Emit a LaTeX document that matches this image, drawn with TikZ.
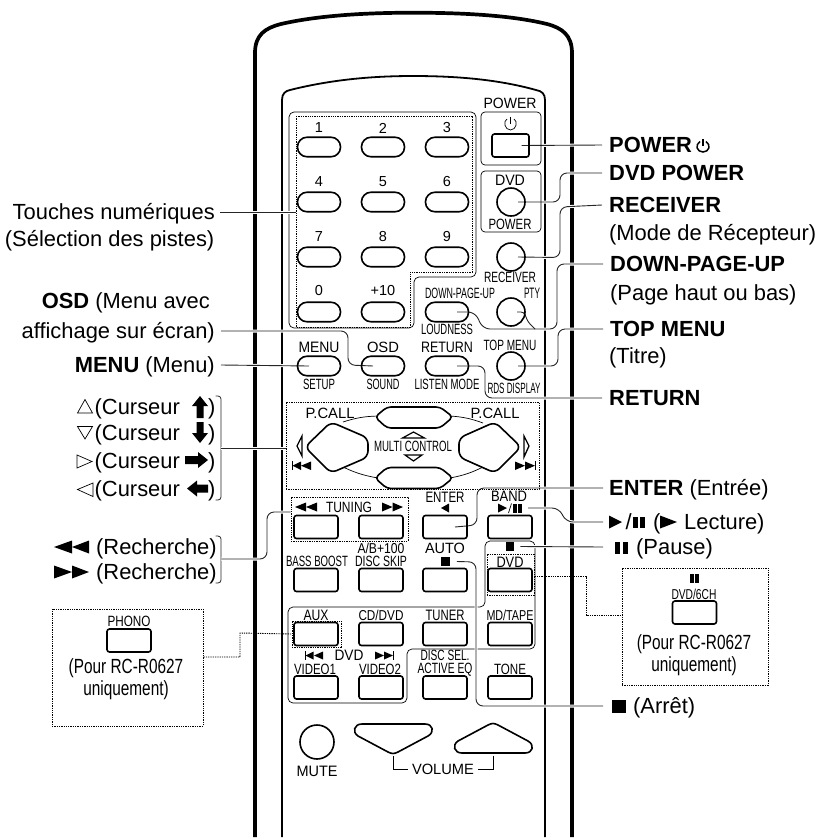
\documentclass[tikz,border=0pt]{standalone}
\usepackage{fontspec}
\usepackage{graphicx}
\setmainfont{Liberation Sans}
\pgfdeclarelayer{bg}
\pgfdeclarelayer{conn}
\pgfsetlayers{bg,conn,main}
\newcommand{\fitw}[2]{\resizebox{#1pt}{10.4pt}{#2}}
\tikzset{
  biglab/.style={inner sep=0pt,font=\fontsize{21.9}{21.9}\selectfont,text height=15.7pt,text depth=0pt},
  lw/.style={biglab,anchor=west},
  le/.style={biglab,anchor=east},
  sm/.style={inner sep=0pt,font=\fontsize{14.5}{14.5}\selectfont,anchor=center},
  insettxt/.style={inner sep=0pt,font=\fontsize{20.5}{20.5}\selectfont,anchor=center},
  pill/.style={draw=black,line width=1.6pt,rounded corners=9.5pt,minimum width=43pt,minimum height=19.5pt,inner sep=0pt},
  sqbtn/.style={draw=black,line width=1.6pt,rounded corners=2.5pt,minimum width=44pt,minimum height=23pt,inner sep=0pt},
  rnd/.style={draw=black,line width=1.6pt,circle,minimum size=28pt,inner sep=0pt},
  thinbox/.style={draw=black,line width=0.7pt,rounded corners=4pt,inner sep=0pt},
  dotbox/.style={draw=black,line width=0.9pt,dash pattern=on 1.3pt off 1pt,inner sep=0pt},
  dotline/.style={draw=black,line width=0.9pt,dash pattern=on 1.3pt off 1pt},
  thinline/.style={draw=black,line width=0.7pt,rounded corners=5pt},
  conn/.style={draw=black!85,line width=0.9pt,rounded corners=7pt,preaction={draw=white,line width=3pt}},
  brk/.style={draw=black!85,line width=0.8pt,rounded corners=3pt},
  blk/.style={fill=black,inner sep=0pt,minimum size=8.5pt},
  hollow/.style={draw=black,line width=1pt,fill=white,line join=miter},
}
\begin{document}
\begin{tikzpicture}[x=1pt,y=-1pt]
\useasboundingbox (0,0) rectangle (815,839);
\begin{pgfonlayer}{bg}
\fill[white] (0,0) rectangle (815,839);
% body
\draw[line width=3.7pt] (255,837) -- (255,53) .. controls (255,35) and (265,28) .. (281,24) .. controls (320,15) and (370,12.7) .. (413,12.7) .. controls (460,12.7) and (510,15) .. (547,24) .. controls (562,28) and (572,35) .. (572,53) -- (572,837);
\draw[line width=1.8pt] (282,837) -- (282,100) .. controls (282,94) and (285,91) .. (290,90) .. controls (330,80) and (370,76) .. (413,76) .. controls (460,76) and (500,80) .. (536,90) .. controls (542,91) and (545,94) .. (545,100) -- (545,837);
% number pad outlines
\draw[thinline] (289,112) -- (476,112) -- (476,277) -- (414,277) -- (414,328) -- (289,328) -- cycle;
\draw[dotline] (296,116) -- (472,116) -- (472,272) -- (410,272) -- (410,327) -- (296,327) -- cycle;
% thin arcs round the multi control
\draw[line width=0.7pt] (343,422) to[bend left=8] (378,416);
\draw[line width=0.7pt] (450,416) to[bend left=8] (483,423);
\draw[line width=0.7pt] (341,466) to[bend right=8] (378,478);
\draw[line width=0.7pt] (450,478) to[bend right=8] (485,466);
% source group outline
\draw[thinline] (485,541) -- (535,541) -- (535,649) -- (407,649) -- (407,703) -- (288,703) -- (288,607) -- (485,607) -- cycle;
\end{pgfonlayer}

% number keys
\foreach \nm/\cx/\cy/\tx/\ty in {k1/319/147/1/128,k2/383/147/2/128,k3/447/147/3/128,k4/319/202/4/182,k5/383/202/5/182,k6/447/202/6/182,k7/319/257/7/237,k8/383/257/8/237,k9/447/257/9/237,k0/319/312/0/291,kp/383/312/+10/291}{
  \node[pill] (\nm) at (\cx,\cy) {};
  \node[sm] (t\nm) at (\cx,\ty) {\tx};
}
% power
\node[thinbox,minimum width=60pt,minimum height=53pt] (boxPower) at (511,138.5) {};
\node[sm] (tPowerTop) at (510,103) {\fitw{53}{POWER}};
\draw[line width=0.7pt] (507,119) .. controls (503,121) and (504.5,130) .. (510.5,130) .. controls (516.5,130) and (518,121) .. (514,119);
\draw[line width=0.7pt] (510.5,117) -- (510.5,124);
\node[sqbtn,minimum width=37pt,minimum height=23pt] (bPower) at (510.5,145.5) {};
% dvd power
\node[thinbox,minimum width=60pt,minimum height=61pt] (boxDvd) at (511,201.5) {};
\node[sm] (tDvdTop) at (510,180) {\fitw{30}{DVD}};
\node[rnd] (bDvdp) at (511,202) {};
\node[sm] (tDvdBot) at (510,224) {\fitw{43}{POWER}};
% receiver
\node[rnd] (bRecv) at (511,257) {};
\node[sm] (tRecv) at (510,277) {\fitw{52}{RECEIVER}};
\node[sm] (tPty) at (532,293) {\fitw{16}{PTY}};
\node[rnd] (bPty) at (511,312) {};
\node[sm] (tDown) at (460,293) {\fitw{70}{DOWN-PAGE-UP}};
\node[pill] (bDown) at (447,312) {};
\node[sm] (tLoud) at (447,329) {\fitw{52}{LOUDNESS}};
% row of menus
\node[sm] (tMenu) at (319,347) {\fitw{41}{MENU}};
\node[sm] (tOsd) at (383,347) {\fitw{32}{OSD}};
\node[sm] (tRet) at (447,347) {\fitw{52}{RETURN}};
\node[sm] (tTop) at (510,345) {\fitw{53}{TOP MENU}};
\node[pill] (bMenu) at (319,366) {};
\node[pill] (bOsd) at (383,366) {};
\node[pill] (bRet) at (447,366) {};
\node[rnd] (bTop) at (511,366) {};
\node[sm] (tSetup) at (319,384) {\fitw{32}{SETUP}};
\node[sm] (tSound) at (383,384) {\fitw{33}{SOUND}};
\node[sm] (tListen) at (447,384) {\fitw{65}{LISTEN MODE}};
\node[sm] (tRds) at (514,388) {\fitw{53}{RDS DISPLAY}};
% multi control
\node[dotbox,minimum width=253pt,minimum height=87pt] (multi) at (412.5,445.5) {};
\node[sm] (tCallL) at (330,413) {\fitw{49}{P.CALL}};
\node[sm] (tCallR) at (495,413) {\fitw{49}{P.CALL}};
\draw[line width=1.6pt,fill=white,rounded corners=4pt] (375,417) -- (387,407) -- (440,407) -- (453,417) -- (440,428) -- (387,428) -- cycle;
\draw[line width=1.6pt,fill=white,rounded corners=4pt] (375,478) -- (387,467.5) -- (440,467.5) -- (453,478) -- (440,488.5) -- (387,488.5) -- cycle;
\draw[line width=1.6pt,fill=white,rounded corners=6pt] (305,447) -- (331,422) -- (368,438) -- (368,457) -- (331,473) -- cycle;
\draw[line width=1.6pt,fill=white,rounded corners=6pt] (521,447) -- (495,422) -- (459,438) -- (459,457) -- (495,473) -- cycle;
\node[sm] (tMulti) at (413,446) {\fitw{78}{MULTI CONTROL}};
\draw[hollow,line width=1.2pt] (402.5,438) -- (413.5,432) -- (424.5,438) -- cycle;
\draw[hollow,line width=1.2pt] (405,455) -- (413.5,461) -- (422,455) -- cycle;
\draw[hollow,line width=1.3pt] (297,446) -- (302,436) -- (302,456) -- cycle;
\draw[hollow,line width=1.3pt] (529,446) -- (524,436) -- (524,457) -- cycle;
\draw[line width=0.7pt] (292,461) -- (292,470);
\fill (292.5,465.7) -- (301,461.5) -- (301,470) -- cycle;
\fill (301,465.7) -- (311,461.5) -- (311,470) -- cycle;
\draw[line width=0.7pt] (535.5,461) -- (535.5,470);
\fill (535,465.7) -- (525,461.5) -- (525,470) -- cycle;
\fill (525,465.7) -- (515,461.5) -- (515,470) -- cycle;
% tuning
\node[dotbox,minimum width=117pt,minimum height=44pt] (tuning) at (349.5,519) {};
\node[sm] (tTuning) at (349,507) {\fitw{46}{TUNING}};
\fill (295,507) -- (306,502.5) -- (306,511.5) -- cycle;
\fill (306,507) -- (317,502.5) -- (317,511.5) -- cycle;
\fill (403,507) -- (392.5,502.5) -- (392.5,511.5) -- cycle;
\fill (392.5,507) -- (382,502.5) -- (382,511.5) -- cycle;
\node[sm] (tEnter) at (445,497) {\fitw{39}{ENTER}};
\fill (441,508) -- (449,503.5) -- (449,512.5) -- cycle;
\node[sm] (tBand) at (509,496) {\fitw{36}{BAND}};
\fill (498,503.5) -- (507,508) -- (498,512.5) -- cycle;
\draw[line width=0.7pt] (508.5,513) -- (511.5,503.5);
\fill (513,504) rectangle (516.5,512.5);
\fill (518,504) rectangle (521.5,512.5);
\coordinate (mBand) at (528,508);
% square keys
\foreach \nm/\cx/\cy in {s11/316/527,s12/381/527,s13/445/527,s14/510/527,s21/316/580,s22/381/580,s23/445/580,s24/510/580,s31/316/634,s32/381/634,s33/445/634,s34/510/634,s41/316/687.5,s42/381/687.5,s43/445/687.5,s44/510/687.5}{
  \node[sqbtn] (\nm) at (\cx,\cy) {};
}
\node[sm] (tAB) at (381,548) {\fitw{47}{A/B+100}};
\node[sm] (tBass) at (317,561) {\fitw{62}{BASS BOOST}};
\node[sm] (tDisc) at (381,561) {\fitw{52}{DISC SKIP}};
\node[sm] (tAuto) at (445,548) {\fitw{40}{AUTO}};
\node[blk] (mStop) at (445.5,561.5) {};
\node[blk] (mPause) at (510,546.5) {};
\node[sm] (tDvd2) at (510,562) {\fitw{27}{DVD}};
\node[dotbox,minimum width=47pt,minimum height=41pt] (dvdBox) at (510.5,574.5) {};
\node[dotbox,minimum width=49pt,minimum height=26pt] (auxBox) at (316.5,634) {};
\node[sm] (tAux) at (316,615) {\fitw{25}{AUX}};
\node[sm] (tCd) at (381,615) {\fitw{45}{CD/DVD}};
\node[sm] (tTuner) at (445,615) {\fitw{39}{TUNER}};
\node[sm] (tMd) at (510,615) {\fitw{47}{MD/TAPE}};
\draw[line width=0.7pt] (305,651) -- (305,660);
\fill (305.5,655.5) -- (313.5,651.5) -- (313.5,659.5) -- cycle;
\fill (314,655.5) -- (323,651.5) -- (323,659.5) -- cycle;
\node[sm] (tDvd3) at (349,655) {\fitw{29}{DVD}};
\fill (393,655.5) -- (384,651.5) -- (384,659.5) -- cycle;
\fill (384,655.5) -- (375,651.5) -- (375,659.5) -- cycle;
\draw[line width=0.7pt] (393.5,651) -- (393.5,660);
\node[sm] (tV1) at (315,669) {\fitw{42}{VIDEO1}};
\node[sm] (tV2) at (380,669) {\fitw{42}{VIDEO2}};
\node[sm] (tDs) at (445,655.5) {\fitw{49}{DISC SEL.}};
\node[sm] (tAe) at (445,669.5) {\fitw{55}{ACTIVE EQ}};
\node[sm] (tTone) at (510,669) {\fitw{32}{TONE}};
% bottom
\node[draw=black,line width=1.6pt,circle,minimum size=34pt,inner sep=0pt] (bMute) at (317,742) {};
\node[sm] (tMute) at (317,771) {\fitw{41}{MUTE}};
\draw[line width=1.6pt] (362,724) -- (425,724) .. controls (433,724) and (435,732) .. (428,736) -- (398,752) .. controls (394,754) and (392,754) .. (388,752) -- (358,736) .. controls (352,732) and (354,724) .. (362,724) -- cycle;
\draw[line width=1.6pt] (462,753) -- (525,753) .. controls (533,753) and (535,745) .. (528,741) -- (498,725) .. controls (494,723) and (492,723) .. (488,725) -- (458,741) .. controls (452,745) and (454,753) .. (462,753) -- cycle;
\node[sm] (tVol) at (443,769) {\fitw{62}{VOLUME}};
\draw[line width=0.8pt] (393,756) -- (393,769) -- (408,769);
\draw[line width=0.8pt] (478,769) -- (493,769) -- (493,756);

% left labels
\node[le] (lTouches) at (215,212) {Touches numériques};
\node[le] (lPistes) at (214.5,239) {(Sélection des pistes)};
\node[le] (lOsd) at (210,301) {\textbf{OSD} (Menu avec};
\node[le] (lEcran) at (215,331) {affichage sur écran)};
\node[le] (lMenu) at (215,365) {\textbf{MENU} (Menu)};
\foreach \nm/\yy in {cu1/407,cu2/433,cu3/461,cu4/489}{
  \node[lw] (\nm) at (94.5,\yy) {(Curseur};
  \node[lw] (p\nm) at (208,\yy) {)};
}
\draw[line width=0.7pt] (77.5,413) -- (85,399.5) -- (92.5,413) -- cycle;
\draw[line width=0.7pt] (77.5,426.5) -- (85,439) -- (92.5,426.5) -- cycle;
\draw[line width=0.7pt] (77,455) -- (92,461.5) -- (77,468) -- cycle;
\draw[line width=0.7pt] (93,483) -- (77.5,489.5) -- (93,496.5) -- cycle;
\fill (200,396) -- (208,406) -- (203.5,406) -- (203.5,418) -- (196.5,418) -- (196.5,406) -- (192,406) -- cycle;
\fill (200,443) -- (208,433) -- (203.5,433) -- (203.5,422) -- (196.5,422) -- (196.5,433) -- (192,433) -- cycle;
\fill (208,460) -- (198,452) -- (198,456) -- (185,456) -- (185,464) -- (198,464) -- (198,468) -- cycle;
\fill (187,488.5) -- (197,480.5) -- (197,484.5) -- (208,484.5) -- (208,492.5) -- (197,492.5) -- (197,496.5) -- cycle;
\node[lw] (lRech1) at (96,547) {(Recherche)};
\node[lw] (lRech2) at (96,572) {(Recherche)};
\fill (54,547) -- (72,540.5) -- (72,553.5) -- cycle;
\fill (72,547) -- (89,540.5) -- (89,553.5) -- cycle;
\fill (89,572) -- (72,565.5) -- (72,578.5) -- cycle;
\fill (72,572) -- (54,565.5) -- (54,578.5) -- cycle;
% left inset
\node[dotbox,minimum width=151pt,minimum height=117pt] (insetL) at (127.5,667.5) {};
\node[sm] (tPhono) at (129,621) {\fitw{43}{PHONO}};
\node[sqbtn] (bPhono) at (129,640.5) {};
\node[insettxt] (tPour1) at (126,668) {\scalebox{0.75}[1]{(Pour RC-R0627}};
\node[insettxt] (tUni1) at (126,690) {\scalebox{0.75}[1]{uniquement)}};
% right inset
\node[dotbox,minimum width=146pt,minimum height=117pt] (insetR) at (695,626.5) {};
\fill (690,574) rectangle (693.8,583);
\fill (695.2,574) rectangle (699,583);
\node[sm] (tDvd6) at (694,594) {\fitw{45}{DVD/6CH}};
\node[sqbtn] (bDvd6) at (694.5,612.5) {};
\node[insettxt] (tPour2) at (694,644) {\scalebox{0.75}[1]{(Pour RC-R0627}};
\node[insettxt] (tUni2) at (694,666) {\scalebox{0.75}[1]{uniquement)}};
% right labels
\node[lw] (lPower) at (609,145) {\textbf{POWER}};
\draw[line width=1.5pt] (700,141.5) .. controls (694.5,145) and (697,152) .. (703,152) .. controls (709,152) and (711.5,145) .. (706,141.5);
\draw[line width=1.5pt] (703,139) -- (703,146);
\node[lw] (lDvdp) at (609,173) {\textbf{DVD POWER}};
\node[lw] (lRecv) at (609,205) {\textbf{RECEIVER}};
\node[lw] (lMode) at (609,233) {(Mode de Récepteur)};
\node[lw] (lDown) at (610,264) {\textbf{DOWN-PAGE-UP}};
\node[lw] (lPage) at (610,293) {(Page haut ou bas)};
\node[lw] (lTop) at (610,329) {\textbf{TOP MENU}};
\node[lw] (lTitre) at (609,356) {(Titre)};
\node[lw] (lRet) at (609,398) {\textbf{RETURN}};
\node[lw] (lEnter) at (609,488) {\textbf{ENTER} (Entrée)};
\fill (609,515.5) -- (622,522) -- (609,528.5) -- cycle;
\node[lw] (lPlay) at (625.5,522) {/};
\fill (633,517) rectangle (637.7,528);
\fill (640.3,517) rectangle (645,528);
\node[lw] (lPar) at (653,522) {(};
\fill (660,515.5) -- (677,522) -- (660,528.5) -- cycle;
\node[lw] (lLect) at (684,522) {Lecture)};
\fill (615,542) rectangle (620.3,554);
\fill (622.7,542) rectangle (628,554);
\node[lw] (lPause) at (636,547) {(Pause)};
\fill (612,700) rectangle (626,713);
\node[lw] (lArret) at (633,706) {(Arrêt)};
% anchors for connectors
\coordinate (padL) at (296,212);
\coordinate (cCur) at (221,448);
\coordinate (cRech) at (221,559);
\coordinate (cTun) at (275,512);

\begin{pgfonlayer}{conn}
\draw[conn] ([xshift=5pt]lTouches.east) -- (padL);
\draw[conn] ([xshift=6pt]lEcran.east) -- (348,331) -- (348,365) -- ([xshift=-10pt]bOsd.center);
\draw[conn] ([xshift=6pt]lMenu.east) -- ([xshift=-10pt]bMenu.center);
\draw[brk] (215.5,396) -- (221,396) -- (221,500) -- (215.5,500);
\draw[conn] (cCur) -- (cCur -| multi.west);
\draw[brk] (215.5,536) -- (221,536) -- (221,583) -- (215.5,583);
\draw[conn] (cRech) -- (267,559) -- (267,512) -- (tuning.west |- cTun);
\draw[dotline] (insetL.east |- 0,657) -- (240,657) -- (240,633) -- (auxBox.west);
\draw[conn] ([xshift=-7pt]lPower.west) -- ([xshift=11pt]bPower.center);
\draw[conn] ([xshift=-7pt]lDvdp.west) -- (560,173) -- (560,202) -- ([xshift=7pt]bDvdp.center);
\draw[conn] ([xshift=-7pt]lRecv.west) -- (560,207) -- (560,257.5) -- ([xshift=7pt]bRecv.center);
\draw[conn] ([xshift=-7pt]lDown.west) -- (557,264) -- (557,329) -- (483,329) -- (475,312) -- ([xshift=10pt]bDown.center);
\draw[draw=black!85,line width=0.9pt,rounded corners=3pt] ([xshift=6pt]bPty.center) -- (524,312) -- (528,322) -- (535,329);
\draw[conn] ([xshift=-7pt]lTop.west) -- (558,329) -- (558,366) -- ([xshift=7pt]bTop.center);
\draw[conn] ([xshift=-7pt]lRet.west) -- (485,398) -- (485,366) -- ([xshift=10pt]bRet.center);
\draw[conn] ([xshift=-6pt]lEnter.west) -- (477,488) -- (477,525) -- ([xshift=10pt]s13.center);
\draw[conn] (603,522) -- (566,522) -- (559,508) -- (mBand);
\draw[conn] (603,547) -- ([xshift=6pt]mPause.east);
\draw[conn] (603,706) -- (476,706) -- (476,562) -- ([xshift=7pt]mStop.east);
\draw[dotline] (dvdBox.east |- 0,576) -- (586,576) -- (586,615) -- (insetR.west |- 0,615);
\end{pgfonlayer}
\end{tikzpicture}
\end{document}
